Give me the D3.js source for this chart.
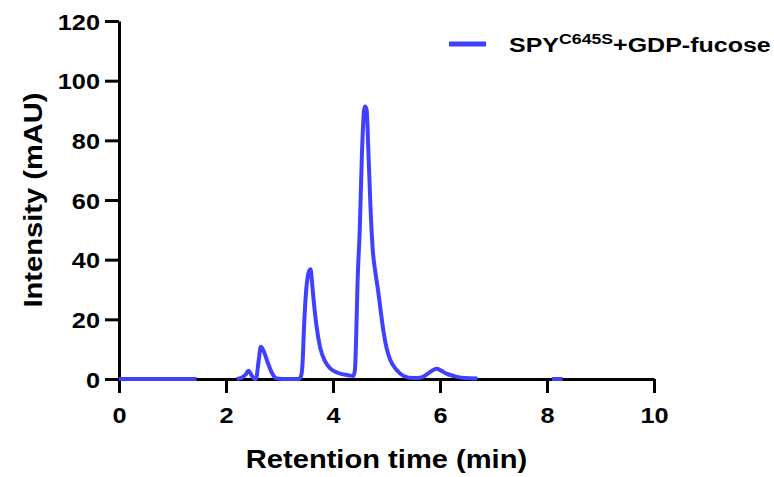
<!DOCTYPE html>
<html>
<head>
  <meta charset="utf-8">
  <script src="https://d3js.org/d3.v7.min.js"></script>
  <style>
    body { margin: 0; background: #fff; }
    text { font-family: "Liberation Sans", Arial, sans-serif; font-weight: bold; }
  </style>
</head>
<body>
<svg id="chart" width="774" height="477"></svg>
<script>
// chromatogram (time in min, intensity in mAU)
const seg1Time = [0, 1.45];
const seg1Value = [0, 0];

const seg2Time = [2.20, 2.30, 2.37, 2.42, 2.47, 2.52, 2.56, 2.61, 2.65, 2.70, 2.78, 2.86, 2.93, 3.05,
  3.36, 3.40, 3.43, 3.46, 3.50, 3.55, 3.58, 3.61, 3.64, 3.69, 3.76, 3.85, 3.94, 4.10, 4.30, 4.38,
  4.41, 4.43, 4.46, 4.50, 4.54, 4.58, 4.60, 4.63, 4.66, 4.70, 4.74, 4.79, 4.84, 4.89, 4.94, 5.00, 5.07,
  5.19, 5.32, 5.50, 5.65, 5.75, 5.85, 5.94, 6.02, 6.12, 6.28, 6.45, 6.70];
const seg2Value = [0, 0.5, 1.5, 2.8, 1.5, 0.2, 0, 6, 10.8, 9.5, 5.5, 2, 0.3, 0,
  0, 0.8, 5, 18, 30, 36, 36.8, 32, 26, 18, 10.5, 6, 3.7, 2, 1.2, 1,
  3, 12, 33, 50, 75, 90, 91.3, 90, 77, 58, 44, 36, 30, 23, 16.4, 10.5, 6.4,
  3, 1, 0.3, 0.5, 1.5, 2.8, 3.4, 2.8, 1.8, 0.9, 0.3, 0.2];

const seg3Time = [8.09, 8.29];
const seg3Value = [0, 0];

const xTicks = [0, 2, 4, 6, 8, 10];
const yTicks = [0, 20, 40, 60, 80, 100, 120];
const seriesName = "SPY";
const seriesSup = "C645S";
const seriesRest = "+GDP-fucose";

const svg = d3.select("#chart");
const margin = {left: 119, top: 21, right: 120, bottom: 98};
const w = 774 - margin.left - margin.right;
const h = 477 - margin.top - margin.bottom;
const g = svg.append("g").attr("transform", `translate(${margin.left},${margin.top})`);

const x = d3.scaleLinear().domain([0, 10]).range([0, w]);
const y = d3.scaleLinear().domain([0, 120]).range([h, 0]);

// text in the reference is a bit wider than Arial
function stretch(sel, sx) {
  sel.each(function() {
    const t = d3.select(this);
    const tx = +t.attr("x") || 0, ty = +t.attr("y") || 0;
    t.attr("x", 0).attr("y", 0)
      .attr("transform", `translate(${tx},${ty}) scale(${sx},1)`);
  });
}

const xAxis = g.append("g").attr("transform", `translate(0,${h})`)
  .call(d3.axisBottom(x).tickValues(xTicks).tickSize(14).tickSizeOuter(0).tickPadding(8));
const yAxis = g.append("g")
  .call(d3.axisLeft(y).tickValues(yTicks).tickSize(14).tickSizeOuter(0).tickPadding(5));

[xAxis, yAxis].forEach(a => {
  a.select(".domain").attr("stroke", "#000").attr("stroke-width", 3);
  a.selectAll(".tick line").attr("stroke", "#000").attr("stroke-width", 3);
  a.selectAll(".tick text").attr("fill", "#000").style("font-size", "22px");
});
xAxis.selectAll(".tick text").attr("dy", null).attr("y", 44);
yAxis.selectAll(".tick text").attr("dy", null).attr("y", 8).attr("x", -19);
xAxis.selectAll(".tick text").call(stretch, 1.15);
yAxis.selectAll(".tick text").call(stretch, 1.15);

// axis titles
svg.append("text")
  .attr("x", margin.left + w / 2).attr("y", 468)
  .attr("text-anchor", "middle").style("font-size", "26px")
  .text("Retention time (min)")
  .call(stretch, 1.12);

svg.append("text")
  .attr("transform", `translate(42,${margin.top + h / 2}) rotate(-90) scale(1.12,1)`)
  .attr("text-anchor", "middle").style("font-size", "26px")
  .text("Intensity (mAU)");

// the trace
const line = d3.line()
  .x(d => x(d[0])).y(d => y(d[1]))
  .curve(d3.curveMonotoneX);

const segments = [
  d3.zip(seg1Time, seg1Value),
  d3.zip(seg2Time, seg2Value),
  d3.zip(seg3Time, seg3Value)
];

g.selectAll("path.trace").data(segments).join("path")
  .attr("class", "trace")
  .attr("d", line)
  .attr("fill", "none")
  .attr("stroke", "#4040ff")
  .attr("stroke-width", 4)
  .attr("stroke-linejoin", "round");

// legend
svg.append("line")
  .attr("x1", 449).attr("x2", 486).attr("y1", 44).attr("y2", 44)
  .attr("stroke", "#4040ff").attr("stroke-width", 5);

const leg = svg.append("text")
  .attr("transform", "translate(509,52) scale(1.22,1)")
  .style("font-size", "20.5px").attr("fill", "#000");
leg.append("tspan").text(seriesName);
leg.append("tspan").text(seriesSup).style("font-size", "14.5px").attr("dy", -8);
leg.append("tspan").text(seriesRest).attr("dy", 8);
</script>
</body>
</html>
